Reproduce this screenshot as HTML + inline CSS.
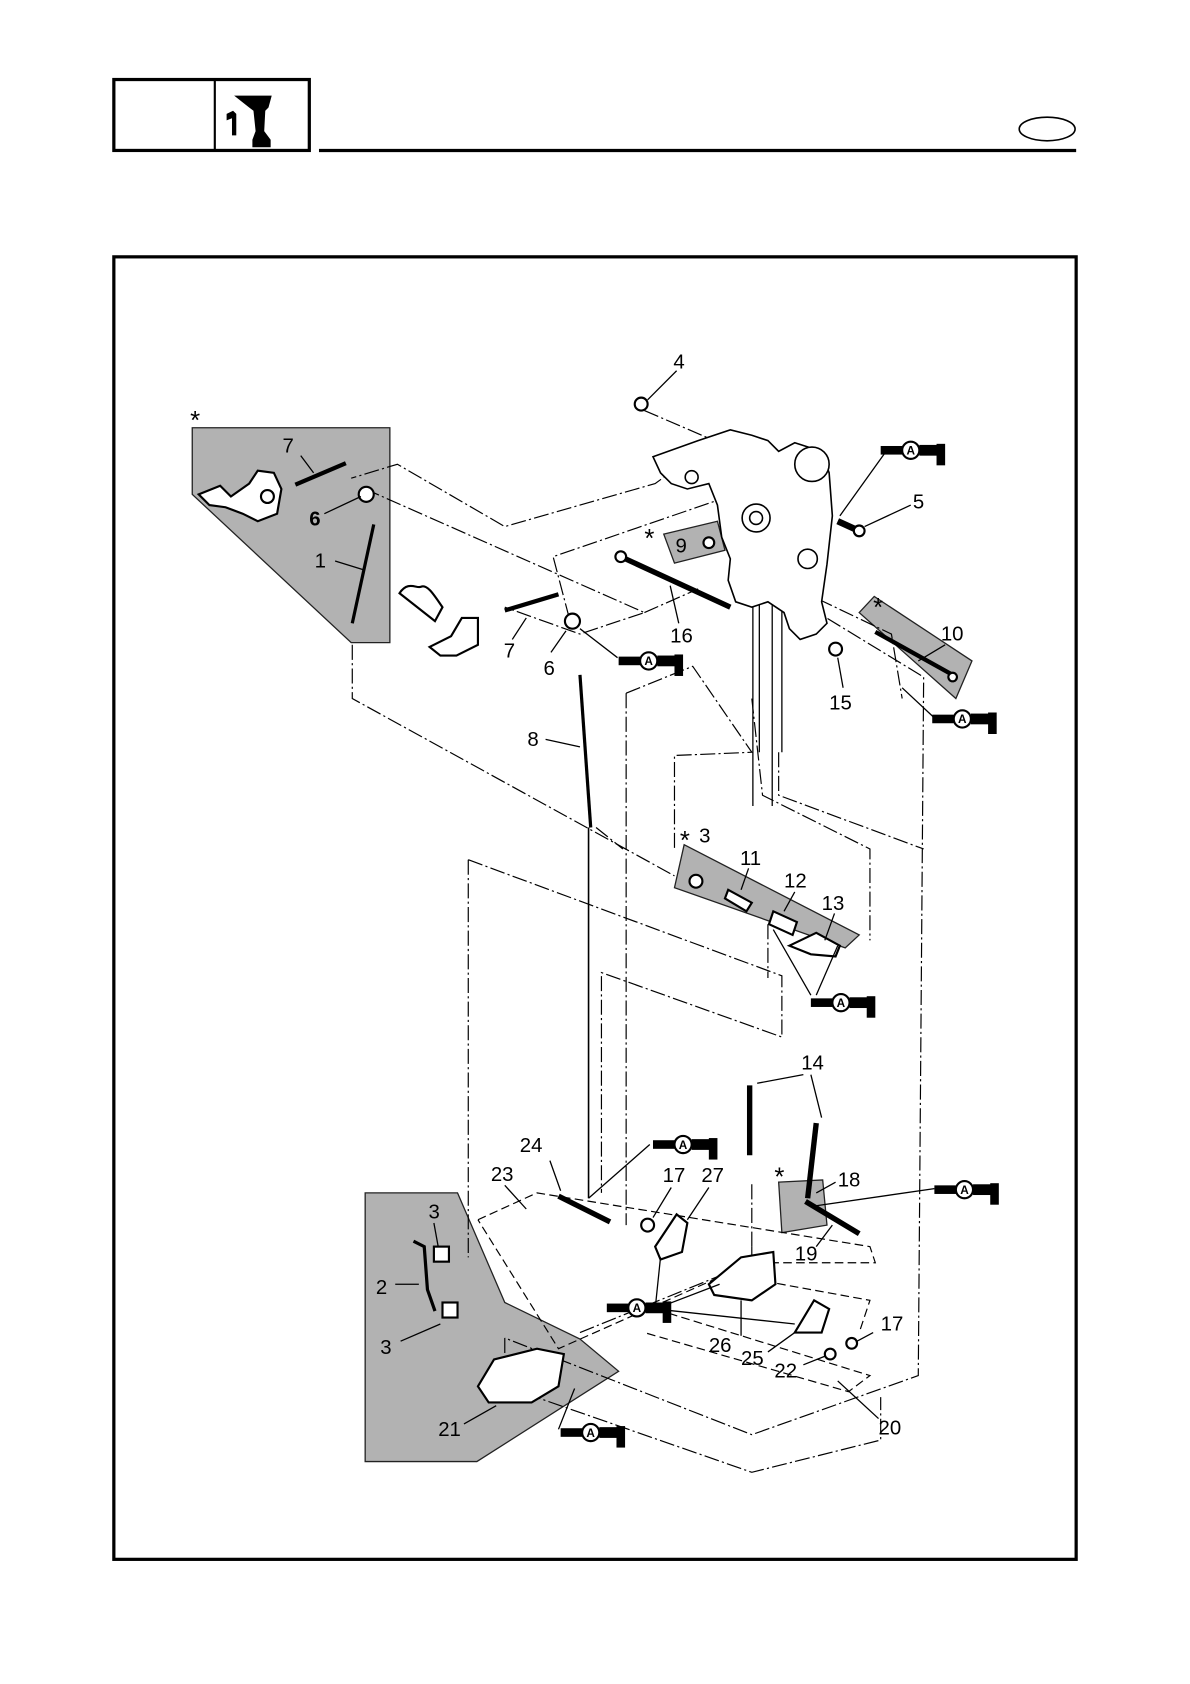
<!DOCTYPE html>
<html><head><meta charset="utf-8"><style>
html,body{margin:0;padding:0;background:#fff;}
svg{display:block;}
text{font-family:"Liberation Sans",sans-serif;fill:#000;}
</style></head><body>
<svg width="1190" height="1684" viewBox="0 0 1108 1567" preserveAspectRatio="none" xmlns="http://www.w3.org/2000/svg">
<rect width="1108" height="1567" fill="#fff"/>
<!-- header -->
<rect x="106" y="74" width="182" height="66" fill="none" stroke="#000" stroke-width="3"/>
<line x1="200" y1="74" x2="200" y2="140" stroke="#000" stroke-width="2"/>
<path d="M218 89 H253 L250 100 L247 103 L246 122 L252 130 V137 H235 V130 L238 122 L236 103 L232 100 Z" fill="#000"/>
<path d="M211 106 L217 103 L220 106 L220 126 L216 126 L216 110 L211 112 Z" fill="#000"/>
<line x1="297" y1="140" x2="1002" y2="140" stroke="#000" stroke-width="3"/>
<ellipse cx="975" cy="120" rx="26" ry="11" fill="none" stroke="#000" stroke-width="1.5"/>
<!-- frame -->
<rect x="106" y="239" width="896" height="1212" fill="none" stroke="#000" stroke-width="3"/>

<!-- gray regions -->
<g fill="#b2b2b2" stroke="#222" stroke-width="1.2">
<polygon points="179,398 363,398 363,598 327,598 179,460"/>
<polygon points="340,1110 426,1110 470,1212 540,1246 576,1276 444,1360 340,1360"/>
<polygon points="618,497 668,485 675,512 628,524"/>
<polygon points="800,570 814,555 905,615 890,650"/>
<polygon points="637,786 800,870 787,882 628,826"/>
<polygon points="725,1100 766,1098 770,1140 728,1147"/>
</g>

<!-- dash-dot connector lines -->
<g fill="none" stroke="#000" stroke-width="1.1" stroke-dasharray="14,3,2,3">
<polyline points="600,382 665,410 610,450 470,490 370,432 327,445"/>
<polyline points="340,455 600,570 540,590 470,565"/>
<polyline points="530,575 515,518 690,458 750,478"/>
<polyline points="600,570 650,548"/>
<polyline points="328,600 328,650 628,815"/>
<polyline points="555,770 580,790"/>
<polyline points="583,645 583,1140"/>
<polyline points="583,645 645,620 700,700 628,703 628,790"/>
<polyline points="700,650 710,740 810,790 810,875"/>
<polyline points="750,480 745,560 860,630 855,1280 700,1335 470,1245"/>
<polyline points="725,700 725,740 860,790"/>
<polyline points="436,800 436,1170"/>
<polyline points="436,800 728,908 728,965 560,905 560,1110"/>
<polyline points="715,860 715,910"/>
<polyline points="540,1240 700,1175 700,1160"/>
<polyline points="470,1245 470,1290 700,1370 820,1340 820,1300"/>
<polyline points="742,548 830,590 840,650"/>
<polyline points="700,1160 700,1100"/>
</g>
<!-- vertical rod lines -->
<g stroke="#000" stroke-width="1.2" fill="none">
<line x1="701" y1="530" x2="701" y2="750"/>
<line x1="707" y1="540" x2="707" y2="700"/>
<line x1="719" y1="545" x2="719" y2="750"/>
<line x1="728" y1="560" x2="728" y2="700"/>
</g>
<!-- dashed group outline 20 -->
<g fill="none" stroke="#000" stroke-width="1.1" stroke-dasharray="8,4">
<polyline points="445,1135 500,1110 810,1160 815,1175 700,1175 520,1255 445,1135"/>
<polyline points="600,1215 810,1280 790,1295 600,1240"/>
<polyline points="700,1190 810,1210 800,1240"/>
</g>

<!-- main bracket body -->
<g fill="#fff" stroke="#000" stroke-width="1.5">
<path d="M608 425 L650 410 L680 400 L700 405 L715 410 L725 420 L740 412 L765 420 L772 440 L775 480 L770 525 L765 560 L770 580 L760 590 L745 595 L735 585 L730 570 L715 560 L700 565 L685 560 L678 540 L680 520 L672 500 L668 470 L660 450 L640 455 L625 450 L615 440 Z"/>
<circle cx="756" cy="432" r="16"/>
<circle cx="704" cy="482" r="13"/>
<circle cx="704" cy="482" r="6"/>
<circle cx="752" cy="520" r="9"/>
<circle cx="644" cy="444" r="6"/>
</g>

<!-- parts -->
<g fill="#fff" stroke="#000" stroke-width="2">
<path d="M275 451 L322 431" stroke-width="4"/>
<circle cx="341" cy="460" r="7"/>
<path d="M185 460 L205 452 L215 462 L232 450 L240 438 L255 440 L262 455 L258 478 L240 485 L226 478 L210 472 L195 470 Z"/>
<circle cx="249" cy="462" r="6"/>
<path d="M372 552 C380 540,388 548,392 546 C398 543,405 555,412 565 L405 578 Z"/>
<path d="M400 602 L420 592 L430 575 L445 575 L445 600 L425 610 L410 610 Z"/>
<path d="M470 568 L520 553" stroke-width="4"/>
<circle cx="533" cy="578" r="7"/>
<line x1="578" y1="518" x2="680" y2="565" stroke-width="5"/>
<circle cx="578" cy="518" r="5"/>
<line x1="780" y1="485" x2="802" y2="495" stroke-width="6"/>
<circle cx="800" cy="494" r="5"/>
<line x1="815" y1="588" x2="887" y2="628" stroke-width="4"/>
<circle cx="887" cy="630" r="4"/>
<circle cx="597" cy="376" r="6"/>
<circle cx="778" cy="604" r="6"/>
<circle cx="660" cy="505" r="5"/>
<circle cx="648" cy="820" r="6"/>
<path d="M678 828 L700 840 L695 848 L675 836 Z"/>
<path d="M720 848 L742 858 L738 870 L716 860 Z"/>
<path d="M735 880 L760 868 L782 880 L778 890 L755 888 Z"/>
<path d="M698 1010 L698 1075" stroke-width="5"/>
<path d="M760 1045 L752 1115" stroke-width="5"/>
<line x1="750" y1="1118" x2="800" y2="1148" stroke-width="5"/>
<line x1="520" y1="1113" x2="568" y2="1137" stroke-width="5"/>
<path d="M610 1160 L630 1130 L640 1138 L635 1165 L615 1172 Z"/>
<path d="M660 1195 L690 1170 L720 1165 L722 1195 L700 1210 L665 1205 Z"/>
<path d="M740 1240 L758 1210 L772 1218 L765 1240 Z"/>
<circle cx="603" cy="1140" r="6"/>
<circle cx="793" cy="1250" r="5"/>
<circle cx="773" cy="1260" r="5"/>
<path d="M385 1155 L395 1160 L398 1200 L405 1220" fill="none" stroke-width="3"/>
<rect x="404" y="1160" width="14" height="14"/>
<rect x="412" y="1212" width="14" height="14"/>
<path d="M445 1290 L460 1265 L500 1255 L525 1260 L520 1290 L495 1305 L455 1305 Z"/>
<path d="M348 488 L328 580" fill="none" stroke-width="3"/>
<path d="M540 628 L550 770" fill="none" stroke-width="3"/>
<line x1="548" y1="770" x2="548" y2="1115" stroke-width="1.5"/>
</g>

<!-- leader lines -->
<g stroke="#000" stroke-width="1.2" fill="none">
<line x1="630" y1="345" x2="603" y2="372"/>
<line x1="280" y1="424" x2="292" y2="440"/>
<line x1="302" y1="478" x2="336" y2="462"/>
<line x1="312" y1="522" x2="338" y2="530"/>
<line x1="848" y1="470" x2="805" y2="490"/>
<line x1="477" y1="595" x2="490" y2="575"/>
<line x1="513" y1="607" x2="527" y2="587"/>
<line x1="632" y1="580" x2="624" y2="545"/>
<line x1="785" y1="640" x2="780" y2="612"/>
<line x1="880" y1="600" x2="855" y2="615"/>
<line x1="508" y1="688" x2="540" y2="695"/>
<line x1="697" y1="808" x2="690" y2="828"/>
<line x1="740" y1="830" x2="730" y2="848"/>
<line x1="777" y1="850" x2="768" y2="875"/>
<line x1="748" y1="1000" x2="705" y2="1008"/>
<line x1="755" y1="1000" x2="765" y2="1040"/>
<line x1="512" y1="1080" x2="522" y2="1108"/>
<line x1="470" y1="1103" x2="490" y2="1125"/>
<line x1="625" y1="1105" x2="608" y2="1133"/>
<line x1="660" y1="1105" x2="640" y2="1135"/>
<line x1="778" y1="1100" x2="760" y2="1110"/>
<line x1="760" y1="1160" x2="775" y2="1140"/>
<line x1="404" y1="1138" x2="408" y2="1160"/>
<line x1="368" y1="1195" x2="390" y2="1195"/>
<line x1="373" y1="1248" x2="410" y2="1232"/>
<line x1="432" y1="1325" x2="462" y2="1308"/>
<line x1="690" y1="1243" x2="690" y2="1210"/>
<line x1="715" y1="1258" x2="740" y2="1240"/>
<line x1="748" y1="1270" x2="768" y2="1262"/>
<line x1="813" y1="1240" x2="798" y2="1248"/>
<line x1="818" y1="1320" x2="780" y2="1285"/>
<line x1="825" y1="420" x2="782" y2="480"/>
<line x1="575" y1="612" x2="540" y2="585"/>
<line x1="870" y1="668" x2="840" y2="640"/>
<line x1="755" y1="926" x2="720" y2="865"/>
<line x1="760" y1="926" x2="780" y2="880"/>
<line x1="605" y1="1065" x2="548" y2="1115"/>
<line x1="870" y1="1106" x2="760" y2="1122"/>
<line x1="610" y1="1218" x2="615" y2="1170"/>
<line x1="610" y1="1218" x2="670" y2="1195"/>
<line x1="610" y1="1218" x2="740" y2="1232"/>
<line x1="520" y1="1330" x2="535" y2="1292"/>
</g>

<!-- grease icons -->
<g transform="translate(820,410)"><rect x="0" y="5" width="20" height="8" fill="#000"/><circle cx="28" cy="9" r="8" fill="#fff" stroke="#000" stroke-width="2"/><rect x="36" y="4" width="18" height="10" fill="#000"/><rect x="52" y="3" width="8" height="20" fill="#000"/><text x="28" y="13" font-size="11" font-weight="bold" text-anchor="middle">A</text></g>
<g transform="translate(576,606)"><rect x="0" y="5" width="20" height="8" fill="#000"/><circle cx="28" cy="9" r="8" fill="#fff" stroke="#000" stroke-width="2"/><rect x="36" y="4" width="18" height="10" fill="#000"/><rect x="52" y="3" width="8" height="20" fill="#000"/><text x="28" y="13" font-size="11" font-weight="bold" text-anchor="middle">A</text></g>
<g transform="translate(868,660)"><rect x="0" y="5" width="20" height="8" fill="#000"/><circle cx="28" cy="9" r="8" fill="#fff" stroke="#000" stroke-width="2"/><rect x="36" y="4" width="18" height="10" fill="#000"/><rect x="52" y="3" width="8" height="20" fill="#000"/><text x="28" y="13" font-size="11" font-weight="bold" text-anchor="middle">A</text></g>
<g transform="translate(755,924)"><rect x="0" y="5" width="20" height="8" fill="#000"/><circle cx="28" cy="9" r="8" fill="#fff" stroke="#000" stroke-width="2"/><rect x="36" y="4" width="18" height="10" fill="#000"/><rect x="52" y="3" width="8" height="20" fill="#000"/><text x="28" y="13" font-size="11" font-weight="bold" text-anchor="middle">A</text></g>
<g transform="translate(608,1056)"><rect x="0" y="5" width="20" height="8" fill="#000"/><circle cx="28" cy="9" r="8" fill="#fff" stroke="#000" stroke-width="2"/><rect x="36" y="4" width="18" height="10" fill="#000"/><rect x="52" y="3" width="8" height="20" fill="#000"/><text x="28" y="13" font-size="11" font-weight="bold" text-anchor="middle">A</text></g>
<g transform="translate(870,1098)"><rect x="0" y="5" width="20" height="8" fill="#000"/><circle cx="28" cy="9" r="8" fill="#fff" stroke="#000" stroke-width="2"/><rect x="36" y="4" width="18" height="10" fill="#000"/><rect x="52" y="3" width="8" height="20" fill="#000"/><text x="28" y="13" font-size="11" font-weight="bold" text-anchor="middle">A</text></g>
<g transform="translate(565,1208)"><rect x="0" y="5" width="20" height="8" fill="#000"/><circle cx="28" cy="9" r="8" fill="#fff" stroke="#000" stroke-width="2"/><rect x="36" y="4" width="18" height="10" fill="#000"/><rect x="52" y="3" width="8" height="20" fill="#000"/><text x="28" y="13" font-size="11" font-weight="bold" text-anchor="middle">A</text></g>
<g transform="translate(522,1324)"><rect x="0" y="5" width="20" height="8" fill="#000"/><circle cx="28" cy="9" r="8" fill="#fff" stroke="#000" stroke-width="2"/><rect x="36" y="4" width="18" height="10" fill="#000"/><rect x="52" y="3" width="8" height="20" fill="#000"/><text x="28" y="13" font-size="11" font-weight="bold" text-anchor="middle">A</text></g>

<!-- labels -->
<g font-size="19">
<text x="627" y="343">4</text>
<text x="263" y="421">7</text>
<text x="850" y="473">5</text>
<text x="288" y="489" font-weight="bold">6</text>
<text x="629" y="514">9</text>
<text x="293" y="528">1</text>
<text x="876" y="596">10</text>
<text x="469" y="612">7</text>
<text x="624" y="598">16</text>
<text x="506" y="628">6</text>
<text x="772" y="660">15</text>
<text x="491" y="694">8</text>
<text x="651" y="784">3</text>
<text x="689" y="805">11</text>
<text x="730" y="826">12</text>
<text x="765" y="847">13</text>
<text x="746" y="995">14</text>
<text x="484" y="1072">24</text>
<text x="457" y="1099">23</text>
<text x="617" y="1100">17</text>
<text x="653" y="1100">27</text>
<text x="780" y="1104">18</text>
<text x="399" y="1134">3</text>
<text x="740" y="1173">19</text>
<text x="350" y="1204">2</text>
<text x="820" y="1238">17</text>
<text x="660" y="1258">26</text>
<text x="354" y="1260">3</text>
<text x="690" y="1270">25</text>
<text x="721" y="1282">22</text>
<text x="408" y="1336">21</text>
<text x="818" y="1335">20</text>
</g>
<g font-size="24">
<text x="177" y="399">*</text>
<text x="600" y="509">*</text>
<text x="813" y="573">*</text>
<text x="633" y="790">*</text>
<text x="721" y="1103">*</text>
</g>
</svg>
</body></html>
